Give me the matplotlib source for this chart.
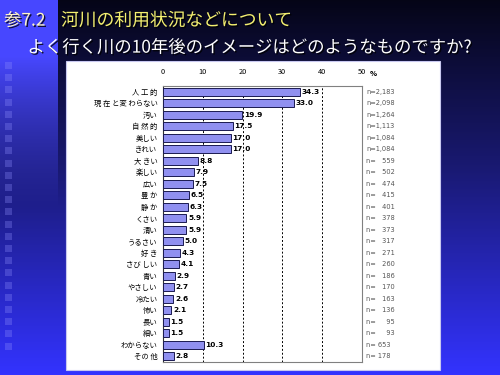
import numpy as np
import matplotlib
matplotlib.use("Agg")
import matplotlib.pyplot as plt
from matplotlib.patches import Rectangle
from matplotlib.transforms import blended_transform_factory
import matplotlib.patheffects as pe

plt.rcParams["font.family"] = ["Noto Sans CJK JP", "DejaVu Sans"]

# data
categories = [
    "人 工 的", "現 在 と変 わらない", "汚い", "自 然 的", "美しい", "きれい",
    "大 きい", "楽しい", "広い", "豊 か", "静 か", "くさい", "清い", "うるさい",
    "好 き", "さび しい", "青い", "やさしい", "冷たい", "怖い", "長い", "細い",
    "わからない", "その 他",
]
percent = [
    34.3, 33.0, 19.9, 17.5, 17.0, 17.0, 8.8, 7.9, 7.5, 6.5, 6.3, 5.9,
    5.9, 5.0, 4.3, 4.1, 2.9, 2.7, 2.6, 2.1, 1.5, 1.5, 10.3, 2.8,
]
n_labels = [
    "n=2,183", "n=2,098", "n=1,264", "n=1,113", "n=1,084", "n=1,084",
    "n=   559", "n=   502", "n=   474", "n=   415", "n=   401", "n=   378",
    "n=   373", "n=   317", "n=   271", "n=   260", "n=   186", "n=   170",
    "n=   163", "n=   136", "n=     95", "n=     93", "n= 653", "n= 178",
]
xticks = [0, 10, 20, 30, 40, 50]

fig = plt.figure(figsize=(5, 3.75), dpi=100)

# slide background: vertical gradient, brighter strip at the left
h, w = 375, 500
yy = np.linspace(0, 1, h)[:, None]
top = np.array([0.02, 0.02, 0.09])
mid = np.array([0.10, 0.10, 0.45])
bot = np.array([0.20, 0.20, 1.00])
t1 = np.clip(yy / 0.45, 0, 1)
t2 = np.clip((yy - 0.45) / 0.55, 0, 1)
col = np.where(yy[..., None] < 0.45,
               top + (mid - top) * t1[..., None],
               mid + (bot - mid) * t2[..., None])
img = np.repeat(col, w, axis=1)
strip_top = np.array([0.28, 0.28, 1.0])
ys = np.linspace(0, 1, h)
s = np.clip((ys - 0.15) / 0.40, 0, 1)[:, None]
strip = strip_top * (1 - s) + col[:, 0, :] * s
img[:, :58, :] = strip[:, None, :]

bg = fig.add_axes([0, 0, 1, 1])
bg.imshow(img, aspect="auto", extent=[0, 1, 0, 1])
bg.set_xlim(0, 1)
bg.set_ylim(0, 1)
bg.axis("off")

# little squares down the left strip
for k in range(24):
    y_px = 62 + k * 12.2
    bg.add_patch(Rectangle((5 / w, 1 - (y_px + 7) / h), 7 / w, 7 / h,
                           facecolor="#9090ff", alpha=0.3, linewidth=0))

# white panel
bg.add_patch(Rectangle((66 / w, 1 - 370 / h), 374 / w, 309 / h,
                       facecolor="white", edgecolor="#c8c8f0", linewidth=0.8))

# titles
shadow = [pe.withSimplePatchShadow(offset=(1, -1), shadow_rgbFace="black", alpha=0.8)]
fig.text(0.008, 0.945, "参7.2", color="#fff6c8", fontsize=12.5,
         va="center", path_effects=shadow)
fig.text(0.122, 0.945, "河川の利用状況などについて", color="#f4f070",
         fontsize=12.8, va="center", path_effects=shadow)
fig.text(0.055, 0.873, "よく行く川の10年後のイメージはどのようなものですか?",
         color="white", fontsize=12.5, va="center", path_effects=shadow)

# bar chart
ax = fig.add_axes([0.326, 0.0347, 0.398, 0.736])
y = np.arange(len(categories))
ax.barh(y, percent, height=0.68, color="#9090f0", edgecolor="#1a1a50",
        linewidth=0.7, zorder=3)
ax.set_xlim(0, 50)
ax.set_ylim(len(categories) - 0.5, -0.5)
ax.set_yticks(y)
ax.set_yticklabels(categories, fontsize=5.3)
ax.set_xticks(xticks)
ax.set_xticklabels([str(v) for v in xticks], fontsize=5.3)
ax.xaxis.tick_top()
ax.tick_params(axis="x", length=0, pad=7)
ax.tick_params(axis="y", length=0, pad=4)
for v in xticks[1:-1]:
    ax.axvline(v, color="black", linestyle=(0, (2, 2)), linewidth=0.7, zorder=1)
for side in ["top", "right", "bottom"]:
    ax.spines[side].set_color("#808080")
ax.spines["left"].set_color("#303030")

for i, v in enumerate(percent):
    ax.text(v + 0.4, i, f"{v:.1f}", fontsize=5.3, fontweight="bold",
            va="center", ha="left", zorder=4, family="DejaVu Sans")
for i, lab in enumerate(n_labels):
    ax.text(51.0, i, lab, fontsize=4.8, color="#555555", va="center",
            ha="left", clip_on=False, family="DejaVu Sans")

tr = blended_transform_factory(ax.transData, ax.transAxes)
ax.text(52.0, 1.045, "%", transform=tr, fontsize=5, fontweight="bold",
        va="center", ha="left", family="DejaVu Sans")

fig.savefig("out.png", dpi=100)
